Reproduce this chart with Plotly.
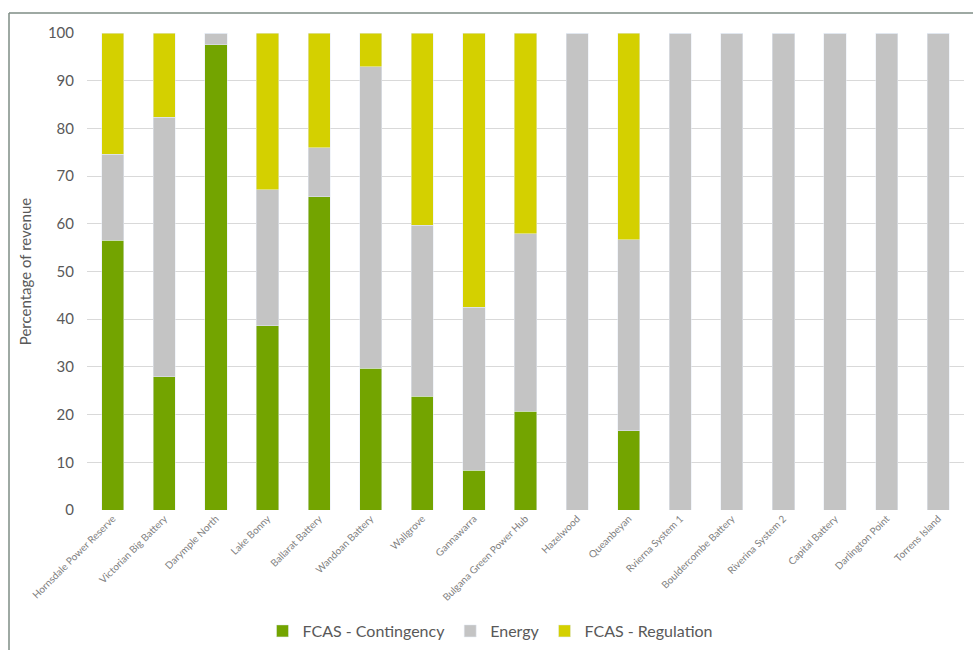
import plotly.graph_objects as go

sites = ["Hornsdale Power Reserve", "Victorian Big Battery", "Darymple North", "Lake Bonny",
         "Ballarat Battery", "Wandoan Battery", "Wallgrove", "Gannawarra",
         "Bulgana Green Power Hub", "Hazelwood", "Queanbeyan", "Rvierna System 1",
         "Bouldercombe Battery", "Riverina System 2", "Capital Battery", "Darlington Point",
         "Torrens Island"]
fcas_contingency = [56.5, 27.9, 97.5, 38.6, 65.7, 29.7, 23.9, 8.3, 20.7, 0, 16.6, 0, 0, 0, 0, 0, 0]
energy = [18.1, 54.4, 2.5, 28.5, 10.2, 63.2, 35.8, 34.2, 37.2, 100, 40.1, 100, 100, 100, 100, 100, 100]
fcas_regulation = [25.4, 17.7, 0, 32.9, 24.1, 7.1, 40.3, 57.5, 42.1, 0, 43.3, 0, 0, 0, 0, 0, 0]

W, H = 973, 650
L, R, T, B = 87, 9, 33, 140
pw, ph = W - L - R, H - T - B

def px(x):
    return (x - L) / pw

def py(y):
    return (H - B - y) / ph

fig = go.Figure()
fig.add_bar(x=sites, y=fcas_contingency, name="FCAS - Contingency", marker_color="#73A400")
fig.add_bar(x=sites, y=energy, name="Energy", marker_color="#C4C4C4")
fig.add_bar(x=sites, y=fcas_regulation, name="FCAS - Regulation", marker_color="#D4D000")

fig.update_layout(
    width=W, height=H,
    barmode="stack", bargap=0.57,
    margin=dict(l=L, r=R, t=T, b=B, autoexpand=False),
    plot_bgcolor="white", paper_bgcolor="white",
    font=dict(family="Lato, Open Sans, sans-serif", color="#595959"),
    legend=dict(orientation="h", x=px(490), xanchor="center", y=py(631), yanchor="middle",
                font=dict(size=16, color="#595959"), itemwidth=30, traceorder="normal"),
    showlegend=True,
)
fig.update_yaxes(range=[0, 100], dtick=10, showgrid=True, gridcolor="#D9D9D9", gridwidth=1,
                 zeroline=False, showline=False, tickfont=dict(size=15, color="#595959"),
                 ticklabelstandoff=12, automargin=False,
                 title=dict(text="Percentage of revenue", font=dict(size=15, color="#595959"), standoff=12))
fig.update_xaxes(tickangle=-45, tickfont=dict(size=10, color="#7F7F7F"), showline=False,
                 showgrid=False, automargin=False)

border = "#7E8C84"
fig.add_shape(type="line", xref="paper", yref="paper", x0=px(9), x1=px(9), y0=py(13), y1=py(650),
              line=dict(color=border, width=1.5))
fig.add_shape(type="line", xref="paper", yref="paper", x0=px(9), x1=px(973), y0=py(13), y1=py(13),
              line=dict(color=border, width=1.5))

fig.write_html("out.html")
